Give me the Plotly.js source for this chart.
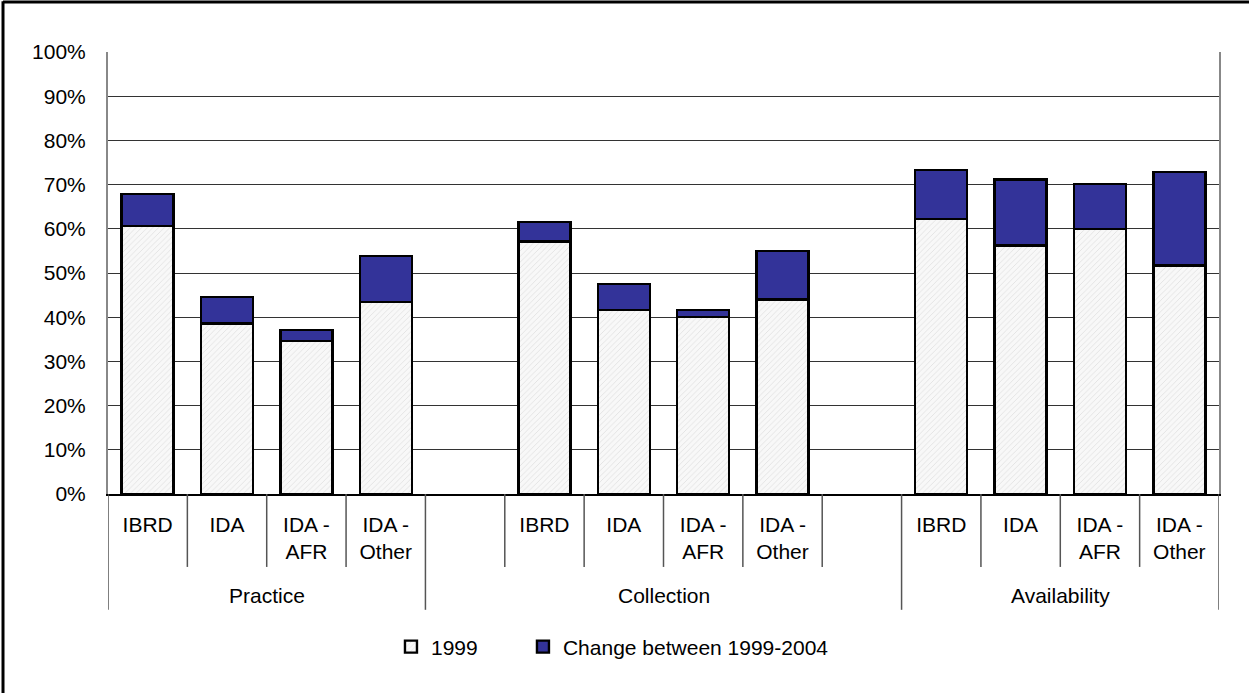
<!DOCTYPE html>
<html>
<head>
<meta charset="utf-8">
<script src="https://cdn.plot.ly/plotly-3.0.1.min.js"></script>
<style>
  html, body { margin: 0; padding: 0; background: #fff; }
  #chart { width: 1251px; height: 693px; }
</style>
</head>
<body>
<div id="chart"></div>
<script>
// ---- data ----
const groups = ['Practice', 'Collection', 'Availability'];
const subcats = ['IBRD', 'IDA', 'IDA -<br>AFR', 'IDA -<br>Other'];
const practice1999 = [60.7, 38.6, 34.6, 43.5];
const practiceChange = [7.2, 6.0, 2.5, 10.4];
const collection1999 = [57.1, 41.6, 40.0, 44.0];
const collectionChange = [4.4, 5.9, 1.6, 11.0];
const availability1999 = [62.2, 56.2, 59.9, 51.7];
const availabilityChange = [11.1, 15.0, 10.2, 21.2];
const seriesNames = ['1999', 'Change between 1999-2004'];
const yTicks = [0, 10, 20, 30, 40, 50, 60, 70, 80, 90, 100];
const yTickText = ['0%', '10%', '20%', '30%', '40%', '50%', '60%', '70%', '80%', '90%', '100%'];

// ---- slot layout (empty padding slots around the middle group) ----
const groupPad = [[0, 0], [1, 1], [0, 0]];
const vals1999 = [practice1999, collection1999, availability1999];
const valsChange = [practiceChange, collectionChange, availabilityChange];

let xs = [], y1 = [], y2 = [], tickvals = [], ticktext = [];
let groupSpans = [];
let slot = 0;
groups.forEach((g, gi) => {
  const start = slot;
  slot += groupPad[gi][0];
  subcats.forEach((s, si) => {
    xs.push(slot); y1.push(vals1999[gi][si]); y2.push(valsChange[gi][si]);
    tickvals.push(slot); ticktext.push(s);
    slot++;
  });
  slot += groupPad[gi][1];
  groupSpans.push([start - 0.5, slot - 0.5]);
});
const nSlots = slot;

const FONT = 'Liberation Sans, Arial, sans-serif';
const FS = 21;
const shapes = [];
const annotations = [];
const shortDrop = -0.165, longDrop = -0.262;
groupSpans.forEach((sp, gi) => {
  for (let b = sp[0] + 1; b < sp[1]; b++) {
    shapes.push({type: 'line', xref: 'x', yref: 'paper', x0: b, x1: b, y0: 0, y1: shortDrop,
      line: {color: '#555', width: 1.5}});
  }
  annotations.push({text: groups[gi], xref: 'x', yref: 'paper', x: (sp[0] + sp[1]) / 2, y: -0.229,
    showarrow: false, font: {family: FONT, size: FS, color: '#000'}, yanchor: 'middle'});
});
const bounds = [groupSpans[0][0]].concat(groupSpans.map(s => s[1]));
bounds.forEach(b => {
  shapes.push({type: 'line', xref: 'x', yref: 'paper', x0: b, x1: b, y0: 0, y1: longDrop,
    line: {color: '#555', width: 1.5}});
});
// outer frame (left + top)
shapes.push({type: 'line', xref: 'paper', yref: 'paper', x0: -0.0945, x1: -0.0945, y0: 1.115, y1: -0.45,
  line: {color: '#000', width: 3}});
shapes.push({type: 'line', xref: 'paper', yref: 'paper', x0: -0.0945, x1: 1.027, y0: 1.113, y1: 1.113,
  line: {color: '#000', width: 3}});

const traces = [
  {type: 'bar', name: seriesNames[0], x: xs, y: y1, width: 0.655, legend: 'legend',
   marker: {color: '#f8f8f8', line: {color: '#000', width: 2.4},
            pattern: {shape: '/', fgcolor: '#d8d8d8', bgcolor: '#f8f8f8', size: 4, solidity: 0.15}}},
  {type: 'bar', name: seriesNames[1], x: xs, y: y2, width: 0.655, legend: 'legend2',
   marker: {color: '#333399', line: {color: '#000', width: 2.4}}}
];

const legendBase = {orientation: 'h', xanchor: 'left', y: -0.346, yanchor: 'middle',
  font: {family: FONT, size: FS, color: '#000'}, bgcolor: 'rgba(0,0,0,0)'};

const layout = {
  width: 1251, height: 693,
  margin: {l: 108, r: 32, t: 52, b: 199},
  barmode: 'stack',
  paper_bgcolor: '#fff', plot_bgcolor: '#fff',
  font: {family: FONT, size: FS, color: '#000'},
  showlegend: true,
  legend: Object.assign({}, legendBase, {x: 0.2547}),
  legend2: Object.assign({}, legendBase, {x: 0.3735}),
  xaxis: {range: [-0.5, nSlots - 0.5], tickmode: 'array', tickvals: tickvals, ticktext: ticktext,
          showgrid: false, zeroline: false, showline: true, linecolor: '#000', linewidth: 1.5,
          ticks: '', tickfont: {family: FONT, size: FS, color: '#000'}, ticklabelstandoff: 11, fixedrange: true},
  yaxis: {range: [0, 100], tickmode: 'array', tickvals: yTicks, ticktext: yTickText,
          showgrid: true, gridcolor: '#333', gridwidth: 1, zeroline: false,
          showline: true, mirror: true, linecolor: '#888', linewidth: 2,
          ticks: '', ticklabelstandoff: 16, tickfont: {family: FONT, size: FS, color: '#000'}, fixedrange: true},
  shapes: shapes,
  annotations: annotations
};

Plotly.newPlot('chart', traces, layout, {displayModeBar: false, staticPlot: true});
</script>
</body>
</html>
